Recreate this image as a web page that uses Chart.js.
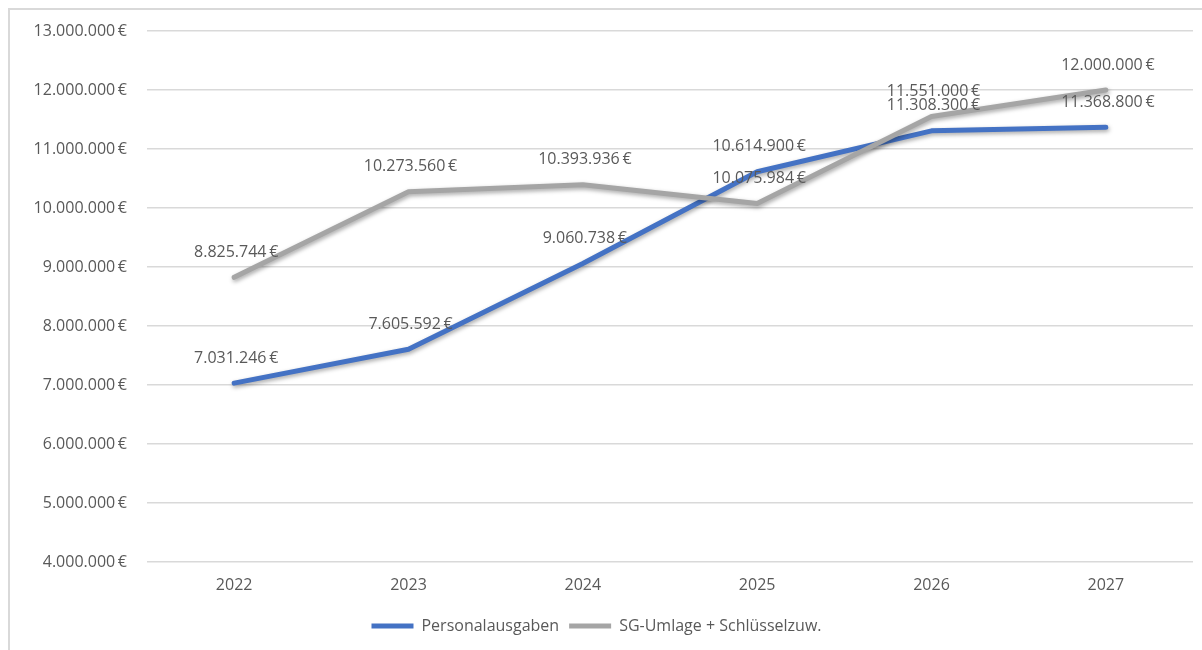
<!DOCTYPE html>
<html lang="de">
<head>
<meta charset="UTF-8">
<title>Personalausgaben</title>
<script src="https://cdn.jsdelivr.net/npm/chart.js"></script>
<style>
  html, body { margin: 0; padding: 0; background: #fff; }
  .rahmen { position: absolute; left: 8px; top: 8px; width: 1300px; height: 700px;
            border-left: 2px solid #d9d9d9; border-top: 2px solid #d9d9d9; }
  .box { position: absolute; left: 0; top: 0; width: 1202px; height: 650px; }
</style>
</head>
<body>
<div class="rahmen"></div>
<div class="box"><canvas id="chart"></canvas></div>

<script>
var jahre = ['2022', '2023', '2024', '2025', '2026', '2027'];
var personal = [7031246, 7605592, 9060738, 10614900, 11308300, 11368800];
var umlage = [8825744, 10273560, 10393936, 10075984, 11551000, 12000000];
var serienNamen = ['Personalausgaben', 'SG-Umlage + Schlüsselzuw.'];
var farben = ['#4472C4', '#A5A5A5'];

var schrift = '"Open Sans", Lato, sans-serif';
var textFarbe = '#595959';
var gr = 16;

function euro(v) {
    var s = Math.round(v).toString().replace(/\B(?=(\d{3})+(?!\d))/g, '.');
    return s + '\u2009€';
}

// Schatten unter den Linien
var schatten = {
    id: 'schatten',
    beforeDatasetDraw: function (chart) {
        var ctx = chart.ctx;
        ctx.save();
        ctx.shadowColor = 'rgba(0,0,0,0.35)';
        ctx.shadowBlur = 4;
        ctx.shadowOffsetX = 1;
        ctx.shadowOffsetY = 2;
    },
    afterDatasetDraw: function (chart) {
        chart.ctx.restore();
    }
};

// Werte über den Punkten
var werte = {
    id: 'werte',
    afterDatasetsDraw: function (chart) {
        var ctx = chart.ctx;
        ctx.save();
        ctx.font = gr + 'px ' + schrift;
        ctx.fillStyle = textFarbe;
        ctx.textAlign = 'center';
        ctx.textBaseline = 'middle';
        chart.data.datasets.forEach(function (ds, i) {
            var meta = chart.getDatasetMeta(i);
            meta.data.forEach(function (pt, j) {
                ctx.fillText(euro(ds.data[j]), pt.x + 2, pt.y - 25);
            });
        });
        ctx.restore();
    }
};

new Chart(document.getElementById('chart'), {
    type: 'line',
    data: {
        labels: jahre,
        datasets: [
            { label: serienNamen[0], data: personal, borderColor: farben[0], backgroundColor: farben[0],
              borderWidth: 5, pointRadius: 0, borderCapStyle: 'round', borderJoinStyle: 'round', order: 1 },
            { label: serienNamen[1], data: umlage, borderColor: farben[1], backgroundColor: farben[1],
              borderWidth: 5, pointRadius: 0, borderCapStyle: 'round', borderJoinStyle: 'round', order: 0 }
        ]
    },
    options: {
        responsive: true,
        maintainAspectRatio: false,
        animation: false,
        layout: { padding: { left: 0, right: 9, top: 31, bottom: 6 } },
        scales: {
            x: {
                offset: true,
                grid: { display: false, drawTicks: false },
                border: { display: false },
                ticks: { color: textFarbe, font: { family: schrift, size: gr }, padding: 14 },
                afterFit: function (s) { s.height = 46; }
            },
            y: {
                min: 4000000,
                max: 13000000,
                grid: { color: '#d9d9d9', lineWidth: 1.5, drawTicks: false },
                border: { display: false },
                ticks: {
                    stepSize: 1000000,
                    color: textFarbe,
                    font: { family: schrift, size: gr },
                    padding: 20,
                    callback: function (v) { return euro(v); }
                },
                afterFit: function (s) { s.width = 147; }
            }
        },
        plugins: {
            legend: {
                position: 'bottom',
                labels: {
                    color: textFarbe,
                    font: { family: schrift, size: gr },
                    usePointStyle: true,
                    pointStyle: 'line',
                    pointStyleWidth: 42,
                    padding: 10,
                    sort: function (a, b) { return a.datasetIndex - b.datasetIndex; }
                }
            },
            tooltip: { enabled: false }
        }
    },
    plugins: [schatten, werte]
});
</script>
</body>
</html>
